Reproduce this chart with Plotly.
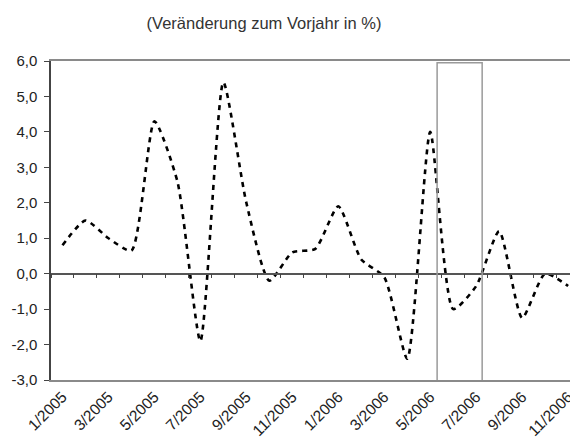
import plotly.graph_objects as go

# Monatswerte 1/2005 - 11/2006, Veränderung zum Vorjahr in %
months = [f"{m}/2005" for m in range(1, 13)] + [f"{m}/2006" for m in range(1, 12)]
values = [0.8, 1.5, 1.0, 0.65, 4.3, 2.6, -1.9, 5.4, 2.0, -0.2, 0.6, 0.7,
          1.9, 0.4, -0.1, -2.4, 4.0, -1.0, -0.35, 1.2, -1.25, 0.0, -0.35]
label_months = months[::2]
y_ticks = [-3, -2, -1, 0, 1, 2, 3, 4, 5, 6]
y_labels = ["-3,0", "-2,0", "-1,0", "0,0", "1,0", "2,0", "3,0", "4,0", "5,0", "6,0"]
highlight = dict(x0=16.3, x1=18.26, y0=-3.06, y1=5.95)

idx = list(range(len(months)))
font = "Liberation Sans, Arial, sans-serif"

# the page body adds 8px margin, so the figure is drawn 8px smaller
W, H, PAD = 578, 440, 8

fig = go.Figure()

fig.add_trace(go.Scatter(
    x=idx, y=values,
    mode='lines',
    line=dict(color='black', width=2.6, dash='5px,5px', shape='spline', smoothing=0.6),
    showlegend=False,
))

# invisible trace on the second axis so it shows up
fig.add_trace(go.Scatter(x=[idx[0]], y=[values[0]], xaxis='x2', mode='none',
                         showlegend=False, hoverinfo='skip'))

xr = [-0.5, 22.43]
fig.update_layout(
    width=W - PAD, height=H - PAD,
    margin=dict(l=51 - PAD, r=0, t=61 - PAD, b=60, autoexpand=False),
    paper_bgcolor='white', plot_bgcolor='white',
    font=dict(family=font, size=13, color='#222'),
    title=dict(text='(Veränderung zum Vorjahr in %)', xref='container',
               x=(264 - PAD) / (W - PAD), xanchor='center',
               y=1 - (23 - PAD) / (H - PAD), yanchor='middle', yref='container',
               font=dict(size=16.5, color='#333')),
    xaxis=dict(
        range=xr, tickmode='array', tickvals=idx[::2], ticktext=label_months,
        tickangle=-45, ticks='', showgrid=False, zeroline=False, automargin=False,
        showline=True, mirror=True, linecolor='#8a8a8a', linewidth=1.5,
        tickfont=dict(size=15.5, color='#222'),
    ),
    xaxis2=dict(
        range=xr, overlaying='x', anchor='free', position=1/3, side='bottom',
        tickmode='array', tickvals=[i - 0.5 for i in idx] + [idx[-1] + 0.5],
        ticks='outside', ticklen=4, tickwidth=1.3, tickcolor='#444', automargin=False,
        showticklabels=False, showgrid=False, zeroline=False,
        showline=True, linecolor='#555', linewidth=1.5,
    ),
    yaxis=dict(
        range=[-3, 6], tickmode='array', tickvals=y_ticks, ticktext=y_labels,
        ticks='outside', ticklen=5,
        tickcolor='#444', showgrid=False, zeroline=False, automargin=False,
        showline=True, linecolor='#444', linewidth=1.5, ticklabelstandoff=4,
        tickfont=dict(size=15, color='#222'),
    ),
    shapes=[dict(type='rect', xref='x', yref='y', line=dict(color='#9a9a9a', width=1.5),
                 fillcolor='rgba(0,0,0,0)', **highlight)],
)

fig.write_html("out.html")
